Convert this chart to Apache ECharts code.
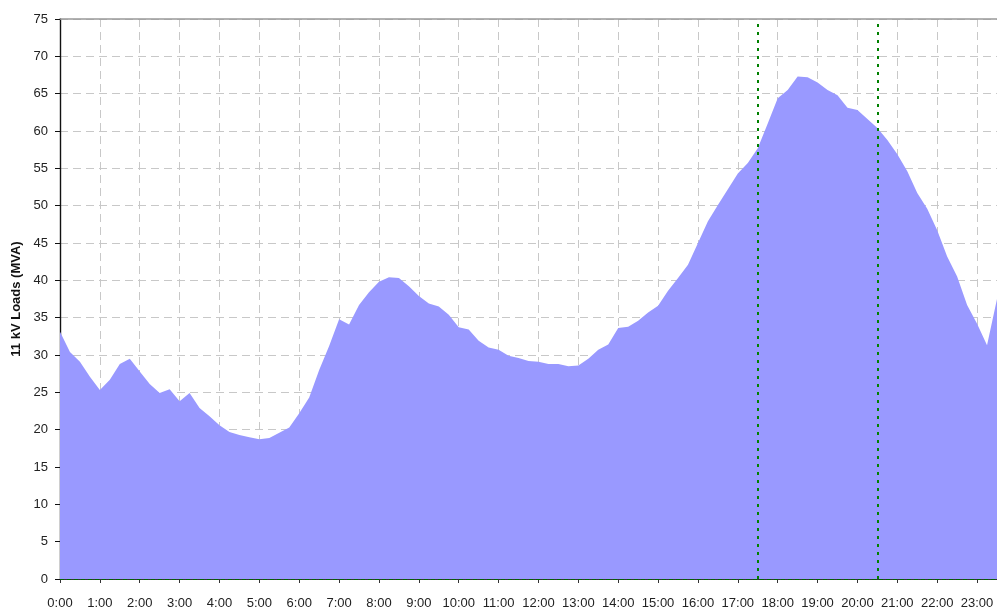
<!DOCTYPE html>
<html>
<head>
<meta charset="utf-8">
<title>11 kV Loads</title>
<script src="https://cdn.jsdelivr.net/npm/echarts@6/dist/echarts.min.js"></script>
<style>
  html, body { margin: 0; padding: 0; background: #fff; }
  #chart { width: 997px; height: 610px; }
</style>
</head>
<body>
<div id="chart"></div>
<script>
// 15 minute steps, 0:00 .. 23:30
const times = [];
for (let h = 0; h < 24; h++) {
  ["00", "15", "30", "45"].forEach(function (m) { times.push(h + ":" + m); });
}
times.length = 95;

// load (MVA), one value per 15 min
const loads = [
  33.1, 30.4, 29.1, 27.1, 25.3, 26.7, 28.8, 29.5, 27.8, 26.1, 24.9, 25.4,
  23.8, 24.9, 22.9, 21.8, 20.6, 19.7, 19.3, 19.0, 18.7, 18.9, 19.6, 20.3,
  22.2, 24.3, 28.0, 31.2, 34.8, 34.1, 36.7, 38.4, 39.8, 40.4, 40.3, 39.2,
  37.9, 36.9, 36.5, 35.4, 33.7, 33.4, 31.9, 31.0, 30.7, 29.9, 29.6, 29.2,
  29.1, 28.8, 28.8, 28.5, 28.6, 29.5, 30.7, 31.4, 33.6, 33.8, 34.6, 35.7,
  36.6, 38.6, 40.3, 42.1, 45.0, 47.9, 50.1, 52.2, 54.3, 55.7, 57.7, 61.0,
  64.4, 65.5, 67.3, 67.2, 66.5, 65.5, 64.8, 63.1, 62.8, 61.6, 60.4, 58.8,
  56.9, 54.6, 51.7, 49.6, 46.7, 43.2, 40.5, 36.7, 34.2, 31.3, 37.5
];

// peak window markers
const peakMarks = ["17:30", "20:30"];

const yMin = 0;
const yMax = 75;
const yStep = 5;

const chart = echarts.init(document.getElementById("chart"));

const hourly = function (index) { return index % 4 === 0; };
const font = "Liberation Sans";

chart.setOption({
  animation: false,
  textStyle: { fontFamily: font },
  grid: { left: 60, right: 0, top: 19, bottom: 31, outerBoundsMode: "none", containLabel: false },
  xAxis: [
    {
      type: "category",
      data: times,
      boundaryGap: false,
      axisLine: { lineStyle: { color: "#333", width: 1.2 } },
      axisTick: { interval: hourly, length: 4, lineStyle: { color: "#333" } },
      axisLabel: { interval: hourly, margin: 18, color: "#222", fontSize: 13, fontFamily: font },
      splitLine: {
        show: true,
        interval: hourly,
        lineStyle: { color: "#c8c8c8", type: [8, 5], width: 1 }
      }
    },
    {
      type: "category",
      data: times,
      position: "top",
      boundaryGap: false,
      axisLine: { lineStyle: { color: "#999", width: 1.6 } },
      axisTick: { show: false },
      axisLabel: { show: false },
      splitLine: { show: false }
    }
  ],
  yAxis: {
    type: "value",
    min: yMin,
    max: yMax,
    interval: yStep,
    name: "11 kV Loads (MVA)",
    nameLocation: "middle",
    nameGap: 29,
    nameTextStyle: { fontWeight: "bold", fontSize: 13, color: "#111", fontFamily: font },
    axisLine: { show: true, lineStyle: { color: "#111", width: 1.4 } },
    axisTick: { show: true, length: 5, lineStyle: { color: "#111" } },
    axisLabel: { margin: 12, color: "#222", fontSize: 13, fontFamily: font },
    splitLine: { lineStyle: { color: "#c8c8c8", type: [8, 5], width: 1 } }
  },
  series: [
    {
      type: "line",
      data: loads,
      showSymbol: false,
      lineStyle: { width: 0 },
      areaStyle: { color: "#9999ff", opacity: 1 },
      markLine: {
        silent: true,
        symbol: "none",
        label: { show: false },
        data: [
          { xAxis: peakMarks[0], lineStyle: { color: "#008000", type: [3, 5], width: 2 } },
          { xAxis: peakMarks[1], lineStyle: { color: "#008000", type: [3, 5], width: 2 } },
          { yAxis: 0, lineStyle: { color: "#006400", type: [4, 3], width: 1.2 } }
        ]
      }
    }
  ]
});
</script>
</body>
</html>
